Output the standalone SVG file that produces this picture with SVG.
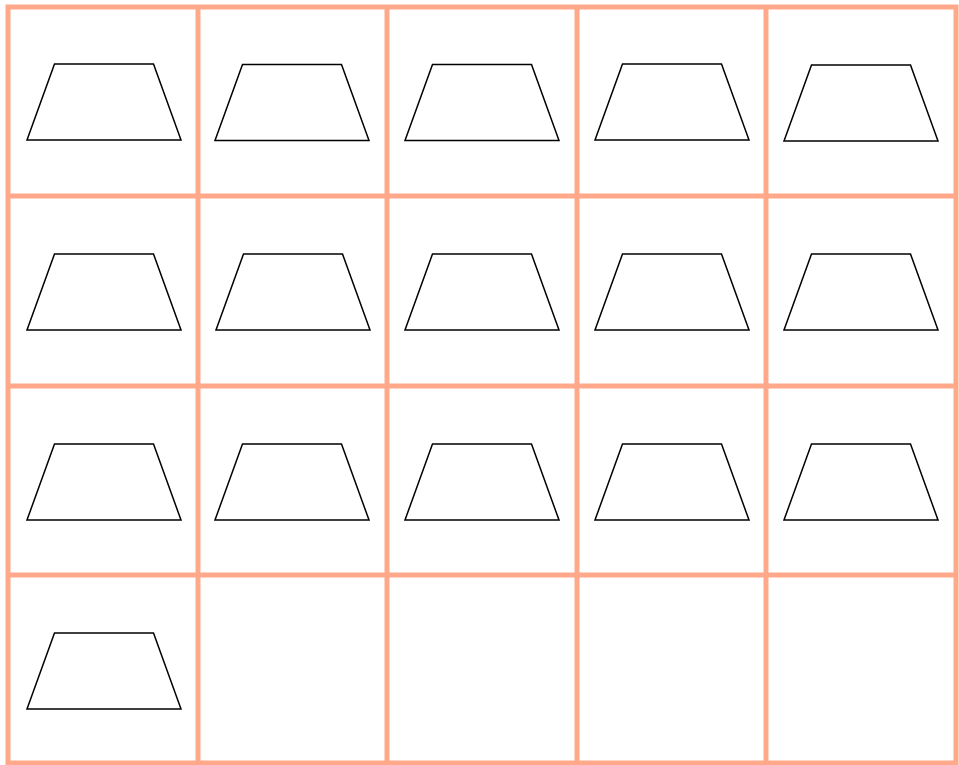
<svg xmlns="http://www.w3.org/2000/svg" width="959" height="765" viewBox="0 0 959 765">
<style>
.grid{stroke:#ffa98a;stroke-width:5;fill:none}
.trap{fill:none;stroke:#000;stroke-width:1.5;stroke-linejoin:miter}
</style>
<defs>
<polygon id="tz" points="27.5,0 126.5,0 154,76 0,76"/>
</defs>
<rect width="959" height="765" fill="#fff"/>
<g id="grid" class="grid">
<rect x="8" y="7" width="948" height="756"/>
<line x1="198" y1="7" x2="198" y2="763"/>
<line x1="387" y1="7" x2="387" y2="763"/>
<line x1="577" y1="7" x2="577" y2="763"/>
<line x1="766" y1="7" x2="766" y2="763"/>
<line x1="8" y1="196" x2="956" y2="196"/>
<line x1="8" y1="386" x2="956" y2="386"/>
<line x1="8" y1="575" x2="956" y2="575"/>
</g>
<g id="r1c1"><use href="#tz" class="trap" x="27" y="64"/></g>
<g id="r1c2"><use href="#tz" class="trap" x="215" y="64.5"/></g>
<g id="r1c3"><use href="#tz" class="trap" x="405" y="64.5"/></g>
<g id="r1c4"><use href="#tz" class="trap" x="595" y="64"/></g>
<g id="r1c5"><use href="#tz" class="trap" x="784" y="65"/></g>
<g id="r2c1"><use href="#tz" class="trap" x="27" y="254"/></g>
<g id="r2c2"><use href="#tz" class="trap" x="216" y="254"/></g>
<g id="r2c3"><use href="#tz" class="trap" x="405" y="254"/></g>
<g id="r2c4"><use href="#tz" class="trap" x="595" y="254"/></g>
<g id="r2c5"><use href="#tz" class="trap" x="784" y="254"/></g>
<g id="r3c1"><use href="#tz" class="trap" x="27" y="444"/></g>
<g id="r3c2"><use href="#tz" class="trap" x="215" y="444"/></g>
<g id="r3c3"><use href="#tz" class="trap" x="405" y="444"/></g>
<g id="r3c4"><use href="#tz" class="trap" x="595" y="444"/></g>
<g id="r3c5"><use href="#tz" class="trap" x="784" y="444"/></g>
<g id="r4c1"><use href="#tz" class="trap" x="27" y="633"/></g>
</svg>
